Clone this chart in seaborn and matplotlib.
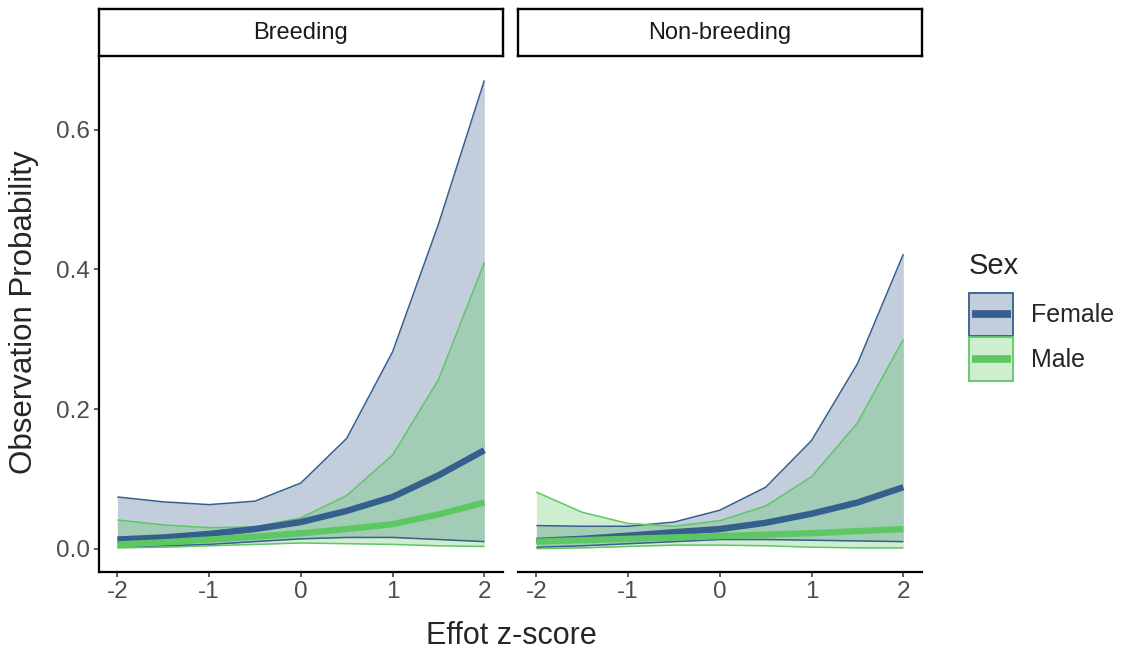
import numpy as np
import pandas as pd
import matplotlib
matplotlib.use("Agg")
import matplotlib.pyplot as plt
import seaborn as sns
from matplotlib.patches import Patch, Rectangle
from matplotlib.lines import Line2D
from matplotlib.legend_handler import HandlerBase

# ---------------- data ----------------
z_score = [-2, -1.5, -1, -0.5, 0, 0.5, 1, 1.5, 2]
seasons = ["Breeding", "Non-breeding"]
sexes = ["Female", "Male"]

breeding_female_mean = [0.013, 0.016, 0.021, 0.028, 0.038, 0.054, 0.074, 0.105, 0.141]
breeding_female_lower = [0.002, 0.004, 0.006, 0.010, 0.014, 0.016, 0.016, 0.013, 0.010]
breeding_female_upper = [0.074, 0.067, 0.063, 0.068, 0.094, 0.158, 0.282, 0.465, 0.671]

breeding_male_mean = [0.006, 0.009, 0.013, 0.017, 0.022, 0.028, 0.035, 0.049, 0.066]
breeding_male_lower = [0.001, 0.002, 0.004, 0.006, 0.008, 0.007, 0.006, 0.004, 0.003]
breeding_male_upper = [0.041, 0.034, 0.030, 0.031, 0.044, 0.076, 0.134, 0.242, 0.410]

nonbreeding_female_mean = [0.011, 0.014, 0.0185, 0.0235, 0.028, 0.037, 0.050, 0.066, 0.088]
nonbreeding_female_lower = [0.002, 0.004, 0.007, 0.010, 0.013, 0.013, 0.012, 0.011, 0.010]
nonbreeding_female_upper = [0.033, 0.032, 0.032, 0.038, 0.055, 0.088, 0.155, 0.265, 0.422]

nonbreeding_male_mean = [0.010, 0.012, 0.014, 0.016, 0.018, 0.020, 0.022, 0.025, 0.028]
nonbreeding_male_lower = [0.000, 0.001, 0.003, 0.005, 0.005, 0.004, 0.002, 0.001, 0.001]
nonbreeding_male_upper = [0.081, 0.052, 0.036, 0.032, 0.040, 0.061, 0.103, 0.180, 0.300]

x_ticks = [-2, -1, 0, 1, 2]
x_tick_labels = ["-2", "-1", "0", "1", "2"]
y_ticks = [0.0, 0.2, 0.4, 0.6]
y_tick_labels = ["0.0", "0.2", "0.4", "0.6"]

series = {
    ("Breeding", "Female"): (breeding_female_mean, breeding_female_lower, breeding_female_upper),
    ("Breeding", "Male"): (breeding_male_mean, breeding_male_lower, breeding_male_upper),
    ("Non-breeding", "Female"): (nonbreeding_female_mean, nonbreeding_female_lower, nonbreeding_female_upper),
    ("Non-breeding", "Male"): (nonbreeding_male_mean, nonbreeding_male_lower, nonbreeding_male_upper),
}
rows = []
for (season, sex), (m, lo, up) in series.items():
    for i, zz in enumerate(z_score):
        rows.append(dict(Season=season, Sex=sex, z=zz, mean=m[i], lower=lo[i], upper=up[i]))
df = pd.DataFrame(rows)

# ---------------- style ----------------
sns.set_style("ticks")
plt.rcParams["font.family"] = ["Liberation Sans", "DejaVu Sans"]
colors = {"Female": "#355F8D", "Male": "#5DC863"}

W, H = 1122, 649
fig = plt.figure(figsize=(W / 100, H / 100), dpi=100)
fig.patch.set_facecolor("white")

panel_top, panel_bottom = 57, 572
panel_w = 403.7
strip_top, strip_bottom = 9, 56
lefts = {"Breeding": 99, "Non-breeding": 518}

ymax_data = df["upper"].max()
yl = (-0.05 * ymax_data, ymax_data * 1.05)

for k, season in enumerate(seasons):
    left = lefts[season]
    ax = fig.add_axes([left / W, 1 - panel_bottom / H, panel_w / W, (panel_bottom - panel_top) / H])
    sub = df[df.Season == season]
    for sex in sexes:
        s = sub[sub.Sex == sex]
        ax.fill_between(s["z"], s["lower"], s["upper"], color=colors[sex], alpha=0.3, lw=0)
        sns.lineplot(data=s, x="z", y="lower", color=colors[sex], lw=1.1, ax=ax)
        sns.lineplot(data=s, x="z", y="upper", color=colors[sex], lw=1.1, ax=ax)
    sns.lineplot(data=sub, x="z", y="mean", hue="Sex", hue_order=sexes, palette=colors,
                 lw=4.6, ax=ax, legend=False)
    for ln in ax.lines:
        ln.set_solid_capstyle("butt")
    ax.set_xlim(-2.2, 2.2)
    ax.set_ylim(*yl)
    ax.set_xticks(x_ticks)
    ax.set_xticklabels(x_tick_labels)
    ax.set_xlabel("")
    ax.set_ylabel("")
    ax.set_facecolor("white")
    for sp in ["top", "right"]:
        ax.spines[sp].set_visible(False)
    ax.spines["bottom"].set_linewidth(1.6)
    ax.spines["bottom"].set_color("black")
    ax.tick_params(axis="both", length=3.8, width=1.1, color="#333333",
                   labelsize=17.5, labelcolor="#4D4D4D", pad=3)
    if k == 0:
        ax.set_yticks(y_ticks)
        ax.set_yticklabels(y_tick_labels)
        ax.spines["left"].set_linewidth(1.6)
        ax.spines["left"].set_color("black")
    else:
        ax.spines["left"].set_visible(False)
        ax.set_yticks([])

    # facet strip
    sax = fig.add_axes([left / W, 1 - strip_bottom / H, panel_w / W, (strip_bottom - strip_top) / H])
    sax.set_xticks([])
    sax.set_yticks([])
    sax.set_facecolor("white")
    for sp in sax.spines.values():
        sp.set_visible(True)
        sp.set_linewidth(1.7)
        sp.set_color("black")
    sax.text(0.5, 0.5, season, ha="center", va="center", fontsize=17, color="#1A1A1A",
             transform=sax.transAxes)

# axis titles
fig.text(511 / W, 1 - 644 / H, "Effot z-score", ha="center", va="baseline", fontsize=22)
fig.text(24 / W, 1 - 312 / H, "Observation Probability", ha="center", va="center",
         rotation=90, fontsize=22.5)


# legend: filled key box with a centred thick line
class BoxLineHandler(HandlerBase):
    def create_artists(self, legend, orig_handle, xdescent, ydescent, width, height,
                       fontsize, trans):
        p, l = orig_handle
        rect = Rectangle((-xdescent, -ydescent), width, height,
                         facecolor=p.get_facecolor(), edgecolor=p.get_edgecolor(),
                         lw=p.get_linewidth(), transform=trans)
        yc = -ydescent + height / 2
        inset = 0.1 * fontsize
        line = Line2D([-xdescent + inset, -xdescent + width - inset], [yc, yc],
                      color=l.get_color(), lw=l.get_linewidth(), solid_capstyle="butt",
                      transform=trans)
        return [rect, line]


handles = []
for sex in sexes:
    p = Patch(facecolor=matplotlib.colors.to_rgba(colors[sex], 0.3), edgecolor=colors[sex], lw=1.3)
    l = Line2D([0, 1], [0, 0], color=colors[sex], lw=5.5)
    handles.append((p, l))
leg = fig.legend(handles=handles, labels=sexes, title="Sex",
                 handler_map={tuple: BoxLineHandler()},
                 loc="upper left", bbox_to_anchor=(969 / W, 1 - 252 / H),
                 frameon=False, fontsize=18, title_fontsize=21,
                 handlelength=1.76, handleheight=2.33, labelspacing=0.04,
                 handletextpad=0.72, borderpad=0, borderaxespad=0, alignment="left")
leg._legend_box.sep = 9

fig.savefig("out.png", dpi=100, facecolor="white")
